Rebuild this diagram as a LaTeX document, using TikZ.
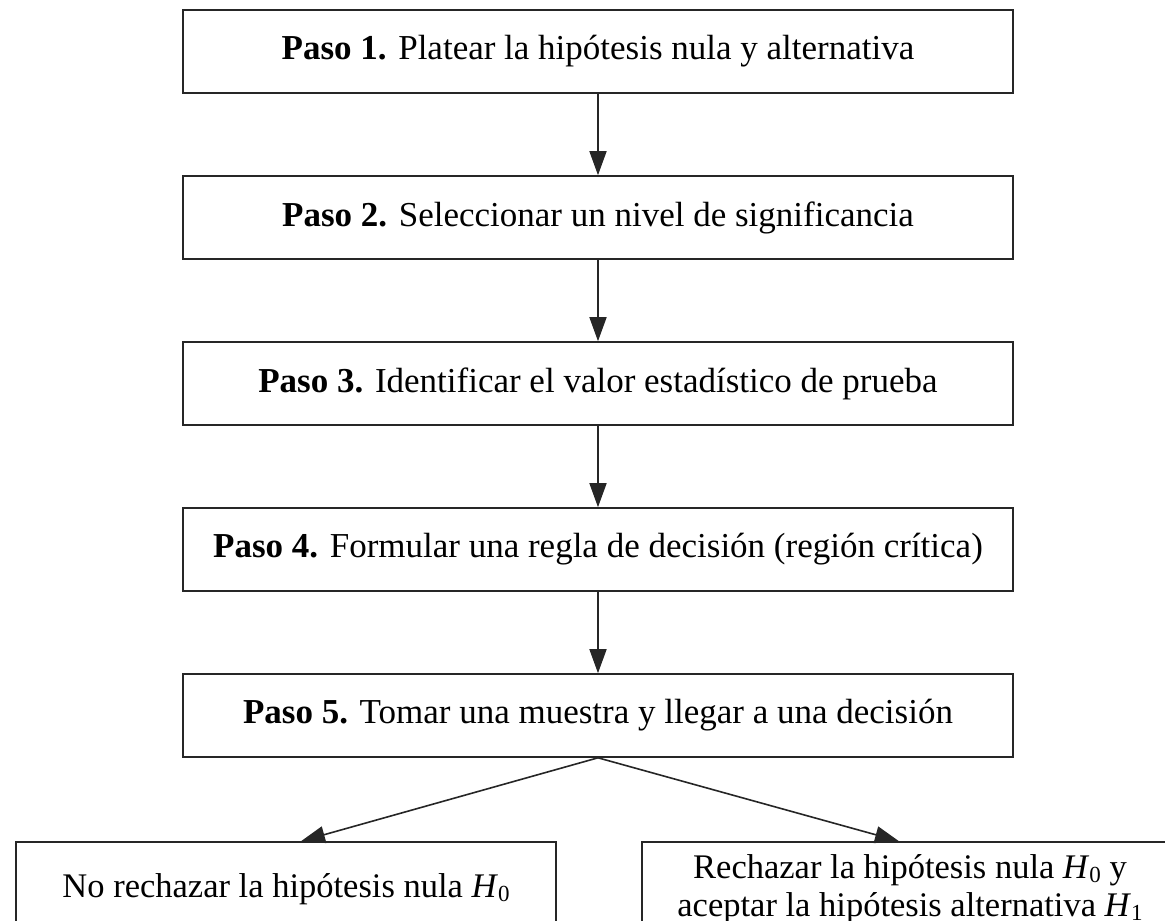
\documentclass[tikz,border=0pt]{standalone}
\usepackage{fontspec}
\setmainfont{Liberation Serif}
\usetikzlibrary{arrows.meta}
\newcommand{\Hsub}[1]{\textit{H}\raisebox{-0.28ex}{\fontsize{23}{23}\selectfont #1}}
\begin{document}
\begin{tikzpicture}[x=1pt,y=-1pt,
  stepbox/.style={draw=black!85,line width=1.6pt,minimum width=830pt,minimum height=83pt,
    inner sep=0pt,font=\fontsize{35}{40}\selectfont},
  endbox/.style={draw=black!85,line width=1.6pt,minimum height=94pt,inner sep=0pt,
    align=center,font=\fontsize{34.5}{38}\selectfont},
  flow/.style={draw=black!85,line width=1.6pt,-{Triangle[length=24pt,width=17pt]}}]
\useasboundingbox (0,0) rectangle (1165,921);
\clip (0,0) rectangle (1165,921);
\node[stepbox] (s1) at (598,51.5)  {\textbf{Paso 1.} Platear la hipótesis nula y alternativa};
\node[stepbox] (s2) at (598,217.5) {\textbf{Paso 2.} Seleccionar un nivel de significancia};
\node[stepbox] (s3) at (598,383.5) {\textbf{Paso 3.} Identificar el valor estadístico de prueba};
\node[stepbox] (s4) at (598,549.5) {\textbf{Paso 4.} Formular una regla de decisión (región crítica)};
\node[stepbox] (s5) at (598,715.5) {\textbf{Paso 5.} Tomar una muestra y llegar a una decisión};
\node[endbox,minimum width=540pt] (no) at (286,889)
  {No rechazar la hipótesis nula \Hsub{0}};
\node[endbox,minimum width=536pt] (yes) at (910,889)
  {Rechazar la hipótesis nula \Hsub{0} y\\aceptar la hipótesis alternativa \Hsub{1}};
\draw[flow] (s1) -- (s2);
\draw[flow] (s2) -- (s3);
\draw[flow] (s3) -- (s4);
\draw[flow] (s4) -- (s5);
\draw[flow] (s5.south) -- ([xshift=15pt]no.north);
\draw[flow] (s5.south) -- ([xshift=-11pt]yes.north);
\end{tikzpicture}
\end{document}
